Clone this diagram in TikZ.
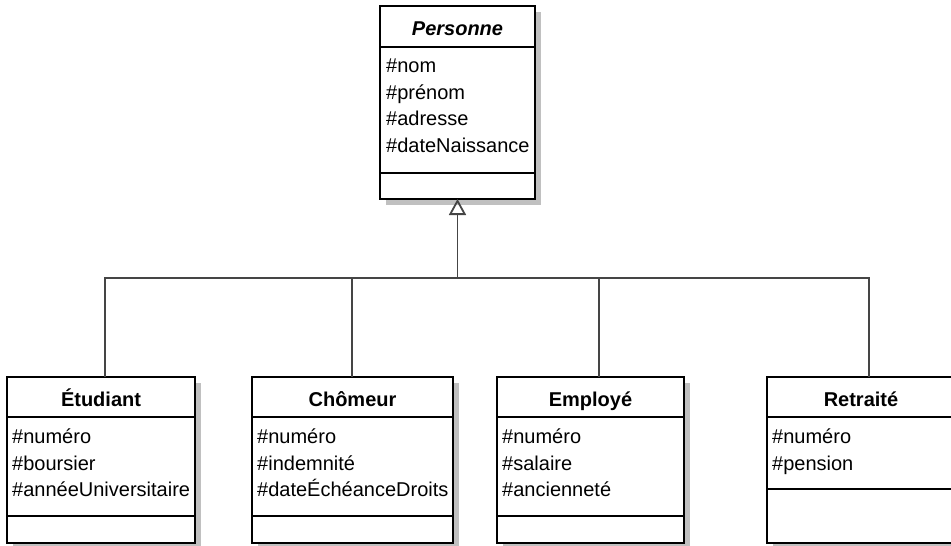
\documentclass[tikz,border=0pt]{standalone}
\usepackage{fontspec}
\setmainfont{Liberation Sans}
\usepackage{tikz}
\usetikzlibrary{arrows.meta,positioning,shadows}
\definecolor{shadowgray}{HTML}{C0C0C0}
\definecolor{linkgray}{HTML}{454545}

\begin{document}
\begin{tikzpicture}[
  x=1pt, y=-1pt,
  font=\fontsize{20}{26.5}\selectfont,
  compart/.style={draw, line width=2pt, fill=white, outer sep=0pt, inner sep=0pt,
    general shadow={draw=none, fill=shadowgray, shadow xshift=6pt, shadow yshift=-6pt}},
  head/.style={compart, font=\fontsize{20}{26.5}\selectfont\bfseries, text height=18pt, text depth=0pt},
  attrs/.style={compart},
  meths/.style={compart},
  attrtext/.style={anchor=north west, inner sep=0pt, align=left},
  arr/.style={-{Triangle[open, length=16pt, width=17pt]}, line width=1.8pt, draw=linkgray},
  link/.style={line width=1.8pt, draw=linkgray},
]
\useasboundingbox (0,0) rectangle (951,546);
\clip (0,0) rectangle (951,546);
% super class
\node[head, minimum width=155, minimum height=41] (personne) at (457.5,26.5) {\textit{Personne}};
\node[attrs, minimum width=155, minimum height=126, below=0pt of personne] (personneAttr) {};
\node[meths, minimum width=155, minimum height=26, below=0pt of personneAttr] (personneMeth) {};
\node[attrtext] (personneTxt) at ([xshift=6pt, yshift=-12pt]personneAttr.north west) {\#nom\\\#prénom\\\#adresse\\\#dateNaissance};
% sub classes
\node[head, minimum width=188, minimum height=40] (etudiant) at (101,397) {Étudiant};
\node[attrs, minimum width=188, minimum height=99, below=0pt of etudiant] (etudiantAttr) {};
\node[meths, minimum width=188, minimum height=27, below=0pt of etudiantAttr] (etudiantMeth) {};
\node[attrtext] (etudiantTxt) at ([xshift=5pt, yshift=-12pt]etudiantAttr.north west) {\#numéro\\\#boursier\\\#annéeUniversitaire};

\node[head, minimum width=201, minimum height=40] (chomeur) at (352.5,397) {Chômeur};
\node[attrs, minimum width=201, minimum height=99, below=0pt of chomeur] (chomeurAttr) {};
\node[meths, minimum width=201, minimum height=27, below=0pt of chomeurAttr] (chomeurMeth) {};
\node[attrtext] (chomeurTxt) at ([xshift=5pt, yshift=-12pt]chomeurAttr.north west) {\#numéro\\\#indemnité\\\#dateÉchéanceDroits};

\node[head, minimum width=187, minimum height=40] (employe) at (590.5,397) {Employé};
\node[attrs, minimum width=187, minimum height=99, below=0pt of employe] (employeAttr) {};
\node[meths, minimum width=187, minimum height=27, below=0pt of employeAttr] (employeMeth) {};
\node[attrtext] (employeTxt) at ([xshift=5pt, yshift=-12pt]employeAttr.north west) {\#numéro\\\#salaire\\\#ancienneté};

\node[head, minimum width=188, minimum height=40] (retraite) at (861,397) {Retraité};
\node[attrs, minimum width=188, minimum height=72, below=0pt of retraite] (retraiteAttr) {};
\node[meths, minimum width=188, minimum height=54, below=0pt of retraiteAttr] (retraiteMeth) {};
\node[attrtext] (retraiteTxt) at ([xshift=5pt, yshift=-12pt]retraiteAttr.north west) {\#numéro\\\#pension};
% generalisation
\coordinate (junction) at (personneMeth.south |- 0,278);
\draw[arr] (junction) -- (personneMeth.south);
\draw[link] ([xshift=4pt]etudiant.north) |- (junction);
\draw[link] ([xshift=-0.5pt]chomeur.north) |- (junction);
\draw[link] ([xshift=8.5pt]employe.north) |- (junction);
\draw[link] ([xshift=8pt]retraite.north) |- (junction);
\end{tikzpicture}
\end{document}
